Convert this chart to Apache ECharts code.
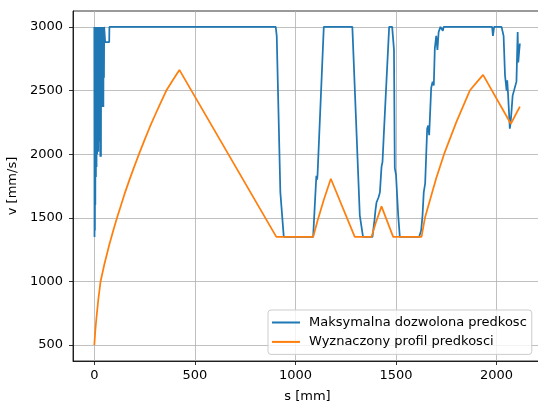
<!DOCTYPE html>
<html>
<head>
<meta charset="utf-8">
<script src="https://cdn.jsdelivr.net/npm/echarts@6/dist/echarts.min.js"></script>
<style>
  html, body { margin: 0; padding: 0; background: #fff; }
  #chart { width: 538px; height: 403px; }
</style>
</head>
<body>
<div id="chart"></div>
<script>
// Axis ticks
const xTicks = [0, 500, 1000, 1500, 2000];
const yTicks = [500, 1000, 1500, 2000, 2500, 3000];

// Series names
const seriesNames = ['Maksymalna dozwolona predkosc', 'Wyznaczony profil predkosci'];

// Maximum allowed speed along the path: [s mm, v mm/s]
const maxSpeed = [
  [0, 3000], [1, 1350], [2, 3000], [3, 1400], [4, 3000], [5, 1600], [6, 3000],
  [8, 1820], [9, 3000], [11, 1900], [12, 3000], [14, 2000], [15, 3000],
  [17, 2100], [18, 3000], [20, 2020], [21, 3000], [23, 2300], [24, 3000],
  [26, 2100], [27, 3000], [30, 1980], [31, 3000], [33, 1980], [34, 3000],
  [36, 2370], [37, 3000], [39, 2400], [40, 3000], [42, 2370], [43, 3000],
  [45, 2370], [46, 3000], [48, 2600], [49, 3000], [53, 3000], [54, 2880],
  [74, 2880], [75, 3000],
  [902, 3000], [907, 2930], [925, 1700], [942, 1350],
  [1088, 1350], [1104, 1830], [1108, 1800], [1110, 1840], [1141, 3000],
  [1283, 3000], [1320, 1520], [1336, 1350],
  [1383, 1350], [1393, 1480], [1398, 1560], [1403, 1620], [1413, 1660],
  [1420, 1700], [1428, 1900], [1433, 1940], [1439, 2140], [1447, 2150],
  [1466, 3000], [1481, 3000], [1490, 2820], [1494, 1890], [1500, 1840],
  [1511, 1520], [1519, 1350],
  [1615, 1350], [1625, 1400], [1632, 1520], [1638, 1700], [1645, 1770],
  [1650, 1780], [1655, 2200], [1660, 2225], [1665, 2150], [1670, 2140],
  [1675, 2520], [1682, 2570], [1688, 2540], [1693, 2830], [1700, 2930],
  [1706, 2820], [1712, 2960], [1721, 3000], [1730, 3000], [1733, 2970],
  [1737, 3000], [1978, 3000], [1982, 2930], [1988, 3000], [2025, 3000],
  [2035, 2930], [2042, 2620], [2046, 2560], [2050, 2500], [2053, 2580],
  [2057, 2480], [2066, 2200], [2070, 2250], [2075, 2350], [2080, 2460],
  [2088, 2470], [2099, 2570], [2105, 2960], [2108, 2720], [2112, 2800],
  [2116, 2870]
];

// Computed speed profile: [s mm, v mm/s]
const profile = [
  [0, 500], [5, 615], [10, 705], [20, 860], [31, 1000], [50, 1135],
  [75, 1292], [100, 1432], [113, 1500], [150, 1686], [175, 1800],
  [200, 1908], [222, 2000], [250, 2112], [275, 2210], [300, 2300],
  [325, 2388], [358, 2500], [390, 2581], [423, 2662],
  [905, 1350], [1088, 1350], [1110, 1477], [1140, 1636], [1176, 1807],
  [1295, 1350], [1378, 1350], [1400, 1463], [1428, 1590], [1486, 1350],
  [1627, 1350], [1644, 1500], [1700, 1811], [1739, 2000], [1800, 2252],
  [1867, 2500], [1900, 2562], [1933, 2623], [2071, 2239], [2116, 2374]
];

const font = 'DejaVu Sans';
const fontSize = 13;
const plain = v => String(v);

const chart = echarts.init(document.getElementById('chart'), null, { renderer: 'canvas' });

chart.setOption({
  animation: false,
  backgroundColor: '#ffffff',
  grid: {
    left: 73, top: 11, width: 469, height: 350,
    outerBoundsMode: 'none', containLabel: false,
    show: true, borderColor: '#000', borderWidth: 0.8, backgroundColor: 'transparent'
  },
  xAxis: {
    type: 'value',
    min: -106, max: 2226,
    name: 's [mm]', nameLocation: 'middle', nameGap: 29,
    nameTextStyle: { fontFamily: font, fontSize: fontSize, color: '#000' },
    axisLine: { show: true, onZero: false, lineStyle: { color: '#000', width: 0.8 } },
    axisTick: { show: true, inside: false, length: 4, customValues: xTicks, lineStyle: { color: '#000', width: 0.8 } },
    axisLabel: { customValues: xTicks, formatter: plain, margin: 8, fontFamily: font, fontSize: fontSize, color: '#000' },
    splitLine: { show: true, lineStyle: { color: '#b0b0b0', width: 0.8 } }
  },
  yAxis: {
    type: 'value',
    min: 375, max: 3125,
    name: 'v [mm/s]', nameLocation: 'middle', nameGap: 41, nameRotate: 90,
    nameTextStyle: { fontFamily: font, fontSize: fontSize, color: '#000' },
    axisLine: { show: true, onZero: false, lineStyle: { color: '#000', width: 0.8 } },
    axisTick: { show: true, inside: false, length: 4, customValues: yTicks, lineStyle: { color: '#000', width: 0.8 } },
    axisLabel: { customValues: yTicks, formatter: plain, margin: 10, fontFamily: font, fontSize: fontSize, color: '#000' },
    splitLine: { show: true, lineStyle: { color: '#b0b0b0', width: 0.8 } }
  },
  legend: {
    orient: 'vertical',
    left: 268, top: 310,
    padding: [5, 5, 5, 4],
    itemWidth: 28, itemHeight: 2, itemGap: 4.4,
    icon: 'rect',
    backgroundColor: 'rgba(255,255,255,0.8)',
    borderColor: '#cccccc', borderWidth: 1, borderRadius: 3,
    textStyle: { fontFamily: font, fontSize: fontSize, color: '#000', lineHeight: 15, padding: [0, 0, 0, 4] },
    data: seriesNames
  },
  series: [
    {
      name: seriesNames[0], type: 'line', data: maxSpeed,
      symbol: 'none', showSymbol: false, clip: true,
      lineStyle: { color: '#1f77b4', width: 1.75 },
      itemStyle: { color: '#1f77b4' }
    },
    {
      name: seriesNames[1], type: 'line', data: profile,
      symbol: 'none', showSymbol: false, clip: true,
      lineStyle: { color: '#ff7f0e', width: 1.75 },
      itemStyle: { color: '#ff7f0e' }
    }
  ]
});
</script>
</body>
</html>
